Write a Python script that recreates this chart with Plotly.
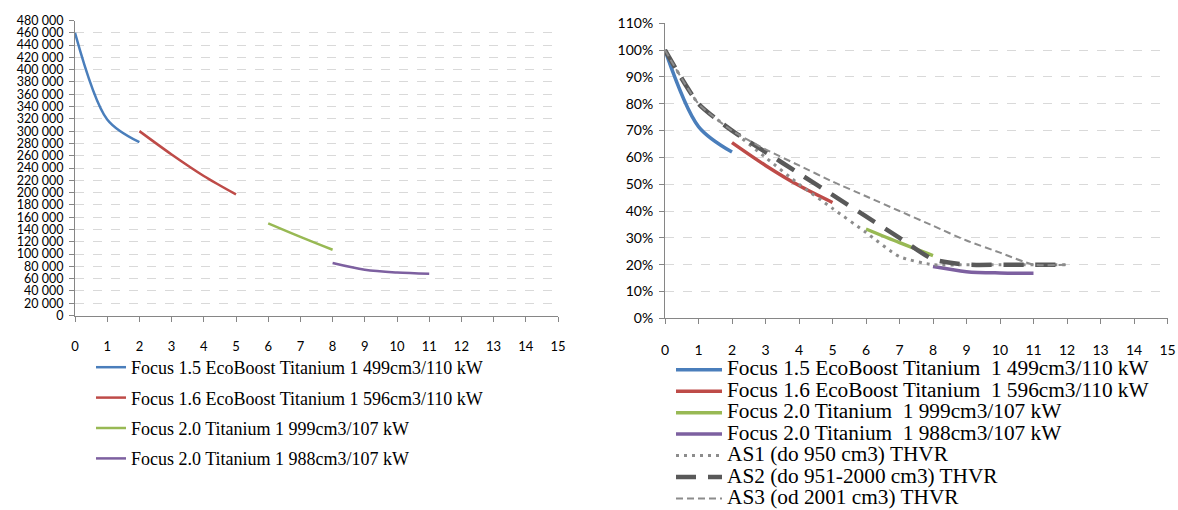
import plotly.graph_objects as go

W, H = 1178, 510

# ---------------- data ----------------
names_left = [
    "Focus 1.5 EcoBoost Titanium 1 499cm3/110 kW",
    "Focus 1.6 EcoBoost Titanium 1 596cm3/110 kW",
    "Focus 2.0 Titanium 1 999cm3/107 kW",
    "Focus 2.0 Titanium 1 988cm3/107 kW",
]
names_right = [
    "Focus 1.5 EcoBoost Titanium  1 499cm3/110 kW",
    "Focus 1.6 EcoBoost Titanium  1 596cm3/110 kW",
    "Focus 2.0 Titanium  1 999cm3/107 kW",
    "Focus 2.0 Titanium  1 988cm3/107 kW",
    "AS1 (do 950 cm3) THVR",
    "AS2 (do 951-2000 cm3) THVR",
    "AS3 (od 2001 cm3) THVR",
]

x_f15 = [0, 1, 2]
x_f16 = [2, 3, 4, 5]
x_f20a = [6, 7, 8]
x_f20b = [8, 9, 10, 11]
x_as = [0, 1, 2, 3, 4, 5, 6, 7, 8, 9, 10, 11, 12]

# left chart: values in CZK
val_f15 = [460000, 319000, 282000]
val_f16 = [300000, 262000, 227000, 197000]
val_f20a = [150000, 128000, 107000]
val_f20b = [85500, 74500, 70000, 68000]

# right chart: share of the new price
pct_f15 = [1.00, 0.715, 0.62]
pct_f16 = [0.655, 0.57, 0.495, 0.432]
pct_f20a = [0.333, 0.282, 0.234]
pct_f20b = [0.193, 0.174, 0.169, 0.168]
pct_as1 = [1.00, 0.80, 0.70, 0.60, 0.50, 0.41, 0.32, 0.23, 0.20, 0.20, 0.20, 0.20, 0.20]
pct_as2 = [1.00, 0.80, 0.70, 0.62, 0.54, 0.46, 0.38, 0.30, 0.22, 0.20, 0.20, 0.20, 0.20]
pct_as3 = [1.00, 0.80, 0.70, 0.63, 0.57, 0.51, 0.455, 0.40, 0.345, 0.29, 0.245, 0.20, 0.20]

left_y_ticks = list(range(0, 480001, 20000))
x_ticks = list(range(0, 16))

colors = ["#4A7EBB", "#BE4B48", "#98B954", "#7D60A0"]

fig = go.Figure()

# ---------------- left chart ----------------
left_series = [(x_f15, val_f15), (x_f16, val_f16), (x_f20a, val_f20a), (x_f20b, val_f20b)]
for i, (xs, ys) in enumerate(left_series):
    fig.add_trace(go.Scatter(
        x=xs, y=ys, mode="lines", name=names_left[i],
        line=dict(color=colors[i], width=2.5, shape="spline", smoothing=0.9),
        xaxis="x", yaxis="y", legend="legend", legendgroup="L%d" % i,
        hoverinfo="skip",
    ))

# ---------------- right chart ----------------
def big(t):
    return '<span style="font-size:21.3px">%s</span>' % t

right_series = [(x_f15, pct_f15), (x_f16, pct_f16), (x_f20a, pct_f20a), (x_f20b, pct_f20b)]
for i, (xs, ys) in enumerate(right_series):
    fig.add_trace(go.Scatter(
        x=xs, y=ys, mode="lines", name=big(names_right[i]),
        line=dict(color=colors[i], width=3.5, shape="spline", smoothing=0.9),
        xaxis="x2", yaxis="y2", legend="legend2",
        hoverinfo="skip",
    ))

as_styles = [
    dict(color="#8C8C8C", width=3, dash="3px,5px"),
    dict(color="#595959", width=4.5, dash="20px,12px"),
    dict(color="#8C8C8C", width=2, dash="7px,4px"),
]
for j, ys in enumerate([pct_as1, pct_as2, pct_as3]):
    fig.add_trace(go.Scatter(
        x=x_as, y=ys, mode="lines", name=big(names_right[4 + j]),
        line=dict(shape="spline", smoothing=0.6, **as_styles[j]),
        xaxis="x2", yaxis="y2", legend="legend2",
        hoverinfo="skip",
    ))

# ---------------- layout ----------------
def px_x(p):
    return p / W

def px_y(p):
    return (H - p) / H

axis_col = "#868686"
grid_col = "#D9D9D9"
tick_font = dict(family="Lato", size=12.5, color="#000000")

fig.update_layout(
    width=W, height=H,
    margin=dict(l=0, r=0, t=0, b=0, autoexpand=False),
    paper_bgcolor="white", plot_bgcolor="white",
    separators=", ",
    showlegend=True,
    xaxis=dict(
        domain=[px_x(75), px_x(558)], range=[0, 15], tickvals=x_ticks,
        showgrid=False, zeroline=False, showline=True, linecolor=axis_col, linewidth=1,
        ticks="outside", ticklen=5, tickcolor=axis_col,
        tickfont=dict(family="Lato", size=13, color="#000000"),
        ticklabelstandoff=14, anchor="y", fixedrange=True, automargin=False,
    ),
    yaxis=dict(
        domain=[px_y(315.5), px_y(20.5)], range=[0, 480000], tickvals=left_y_ticks,
        tickformat=",d",
        showgrid=True, gridcolor=grid_col, griddash="dash", gridwidth=1,
        zeroline=False, showline=True, linecolor=axis_col, linewidth=1,
        ticks="outside", ticklen=5, tickcolor=axis_col, tickfont=tick_font,
        ticklabelstandoff=3, anchor="x", fixedrange=True, automargin=False,
    ),
    xaxis2=dict(
        domain=[px_x(665), px_x(1167.5)], range=[0, 15], tickvals=x_ticks,
        showgrid=False, zeroline=False, showline=True, linecolor=axis_col, linewidth=1,
        ticks="outside", ticklen=5, tickcolor=axis_col,
        tickfont=dict(family="Lato", size=14, color="#000000"),
        ticklabelstandoff=14, anchor="y2", fixedrange=True, automargin=False,
    ),
    yaxis2=dict(
        domain=[px_y(318.3), px_y(23.3)], range=[0, 1.1], dtick=0.1, tick0=0,
        tickformat=".0%",
        showgrid=True, gridcolor=grid_col, griddash="dash", gridwidth=1,
        zeroline=False, showline=True, linecolor=axis_col, linewidth=1,
        ticks="outside", ticklen=5, tickcolor=axis_col,
        tickfont=dict(family="Lato", size=14, color="#000000"),
        ticklabelstandoff=3, anchor="x2", fixedrange=True, automargin=False,
    ),
    legend=dict(
        x=px_x(91), y=px_y(349), xanchor="left", yanchor="top",
        font=dict(family="Liberation Serif", size=18, color="#000000"),
        bgcolor="rgba(0,0,0,0)", itemwidth=30, tracegroupgap=4,
        traceorder="grouped",
    ),
    legend2=dict(
        x=px_x(671), y=px_y(354), xanchor="left", yanchor="top",
        font=dict(family="Liberation Serif", size=14.2, color="#000000"),
        bgcolor="rgba(0,0,0,0)", itemwidth=46, tracegroupgap=0,
        traceorder="normal",
    ),
)

# remove the default 8px page margin so the 1178x510 figure fills the window exactly
fig.write_html(
    "out.html",
    config={"displayModeBar": False},
    post_script="document.body.style.margin='0px';",
)
